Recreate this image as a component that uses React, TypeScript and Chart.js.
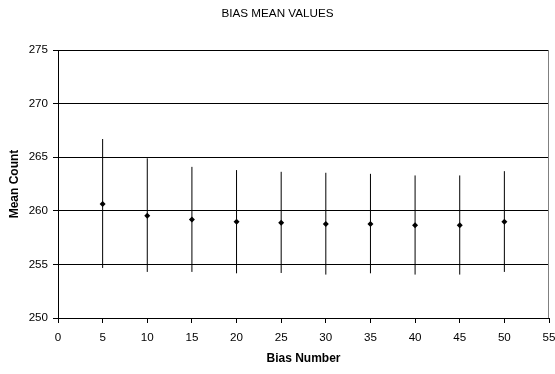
import React, { useEffect, useRef } from "react";
import { Chart, registerables } from "chart.js";

Chart.register(...registerables);

const biasNumbers = [5, 10, 15, 20, 25, 30, 35, 40, 45, 50];
const meanValues = [260.64, 259.55, 259.18, 258.97, 258.88, 258.76, 258.76, 258.66, 258.66, 258.97];
const upperValues = [266.7, 264.9, 264.1, 263.8, 263.64, 263.55, 263.45, 263.3, 263.3, 263.7];
const lowerValues = [254.67, 254.3, 254.3, 254.17, 254.2, 254.05, 254.17, 254.05, 254.05, 254.3];

const FONT = "'Liberation Sans', Arial, sans-serif";

const rightBorder = {
  id: "rightBorder",
  afterDraw(chart: any) {
    const { ctx, chartArea } = chart;
    const x = Math.round(chartArea.right) - 0.5;
    ctx.save();
    ctx.strokeStyle = "#808080";
    ctx.lineWidth = 1;
    ctx.beginPath();
    ctx.moveTo(x, chartArea.top);
    ctx.lineTo(x, chartArea.bottom);
    ctx.stroke();
    ctx.restore();
  },
};

export default function App() {
  const ref = useRef<HTMLCanvasElement>(null);
  useEffect(() => {
    document.body.style.margin = "0";
    const canvas = ref.current!;
    const errorPoints: any[] = [];
    biasNumbers.forEach((x, i) => {
      errorPoints.push({ x, y: lowerValues[i] });
      errorPoints.push({ x, y: upperValues[i] });
      errorPoints.push({ x, y: null });
    });
    const chart = new Chart(canvas, {
      type: "scatter",
      plugins: [rightBorder],
      data: {
        datasets: [
          {
            label: "Mean",
            data: biasNumbers.map((x, i) => ({ x, y: meanValues[i] })),
            pointStyle: "rectRot",
            pointRadius: 3,
            backgroundColor: "#000",
            borderColor: "#000",
            borderWidth: 0,
            order: 0,
          } as any,
          {
            type: "line",
            label: "Range",
            data: errorPoints,
            borderColor: "#000",
            borderWidth: 1,
            pointRadius: 0,
            spanGaps: false,
            fill: false,
            order: 1,
          } as any,
        ],
      },
      options: {
        responsive: false,
        animation: false,
        layout: { padding: { left: 0, right: 0, top: 0, bottom: 0 } },
        plugins: {
          legend: { display: false },
          tooltip: { enabled: false },
          title: {
            display: true,
            text: "BIAS MEAN VALUES",
            color: "#000",
            font: { family: FONT, size: 11.7, weight: "normal" },
            padding: { top: 7, bottom: 29 },
          },
        },
        scales: {
          x: {
            type: "linear",
            min: 0,
            max: 55,
            offset: false,
            ticks: {
              stepSize: 5,
              color: "#000",
              font: { family: FONT, size: 11.6 },
              padding: 8,
              maxRotation: 0,
            },
            grid: {
              offset: false,
              drawOnChartArea: false,
              tickColor: "#000",
              tickLength: 5,
            },
            border: { display: true, color: "#000", width: 1 },
            title: {
              display: true,
              text: "Bias Number",
              color: "#000",
              font: { family: FONT, size: 12, weight: "bold" },
              padding: { top: 4, bottom: 8.5 },
            },
            afterFit: (s: any) => {
              s.height = 56;
              s.paddingRight = 6;
            },
          },
          y: {
            min: 250,
            max: 275,
            ticks: {
              stepSize: 5,
              color: "#000",
              font: { family: FONT, size: 11.6 },
              padding: 5,
            },
            grid: {
              color: "#000",
              tickColor: "#000",
              tickLength: 5,
            },
            border: { display: true, color: "#000", width: 1 },
            title: {
              display: true,
              text: "Mean Count",
              color: "#000",
              font: { family: FONT, size: 12, weight: "bold" },
              padding: { top: 7, bottom: 4 },
            },
            afterFit: (s: any) => {
              s.width = 58;
            },
          },
        },
      } as any,
    });
    return () => chart.destroy();
  }, []);
  return <canvas ref={ref} width={555} height={374} style={{ display: "block" }} />;
}
